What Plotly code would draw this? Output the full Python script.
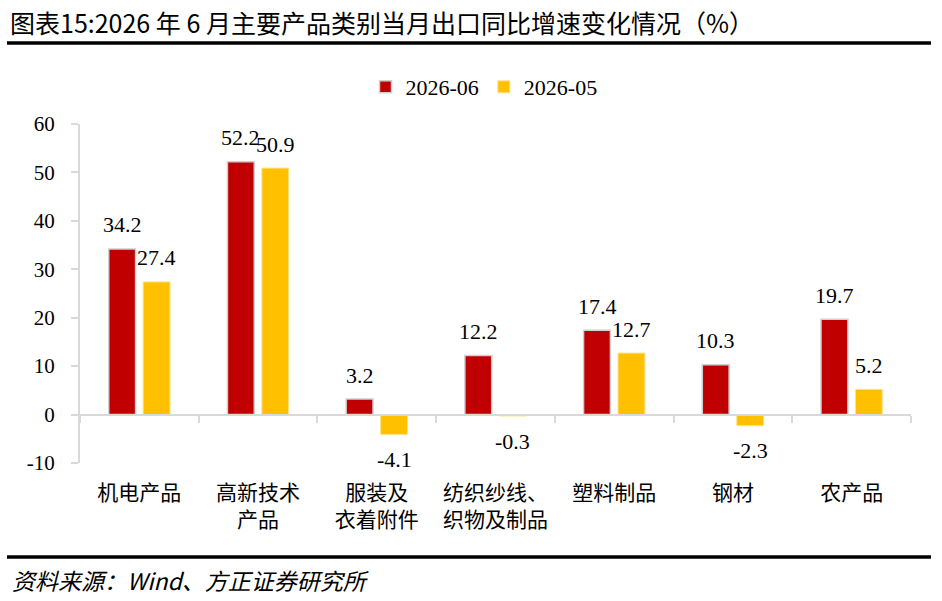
import plotly.graph_objects as go

categories = ["机电产品", "高新技术<br>产品", "服装及<br>衣着附件", "纺织纱线、<br>织物及制品", "塑料制品", "钢材", "农产品"]
series_names = ["2026-06", "2026-05"]
values_jun = [34.2, 52.2, 3.2, 12.2, 17.4, 10.3, 19.7]
values_may = [27.4, 50.9, -4.1, -0.3, 12.7, -2.3, 5.2]
y_ticks = [-10, 0, 10, 20, 30, 40, 50, 60]

RED = "#C00000"
GOLD = "#FFC000"
AXIS = "#D9D9D9"
SERIF = "Liberation Serif, Times New Roman, serif"
CJK = "Noto Sans CJK SC, sans-serif"

W, H = 942, 601
ML, MR, MT, MB = 80, 31, 124, 138
ymin, ymax = -10, 60
BARGAP, BARGROUPGAP = 0.42, 0.22

fig = go.Figure()
fig.add_trace(go.Bar(
    name=series_names[0], x=categories, y=values_jun,
    marker=dict(color=RED, line=dict(color="#D0D0D0", width=1.5)),
    cliponaxis=False,
))
fig.add_trace(go.Bar(
    name=series_names[1], x=categories, y=values_may,
    marker=dict(color=GOLD, line=dict(color="#FFE38A", width=1)),
    cliponaxis=False,
))

# value labels placed over each bar via the axis scales
slot = (1 - BARGAP) / 2
annotations = []
for i, (a, b) in enumerate(zip(values_jun, values_may)):
    for off, v in ((-slot / 2, a), (slot / 2, b)):
        annotations.append(dict(
            x=i + off, y=v, xref="x", yref="y", text=f"{v:.1f}", showarrow=False,
            xanchor="center", yanchor="middle", yshift=24 if v >= 0 else -25,
            font=dict(family=SERIF, size=22, color="black")))

ph = H - MT - MB
zero_pos = (0 - ymin) / (ymax - ymin)

def py(pix):
    return (H - MB - pix) / ph

def px(pix):
    return (pix - ML) / (W - ML - MR)

annotations += [
    dict(text="图表15:2026 年 6 月主要产品类别当月出口同比增速变化情况（%）",
         xref="paper", yref="paper", x=px(8), y=py(22), xanchor="left", yanchor="middle",
         showarrow=False, font=dict(family=CJK, size=25, color="black")),
    dict(text="<i>资料来源：Wind、方正证券研究所</i>",
         xref="paper", yref="paper", x=px(10), y=py(580), xanchor="left", yanchor="middle",
         showarrow=False, font=dict(family=CJK, size=23, color="black")),
]

fig.update_layout(
    width=W, height=H,
    margin=dict(l=ML, r=MR, t=MT, b=MB),
    plot_bgcolor="white", paper_bgcolor="white",
    barmode="group", bargap=BARGAP, bargroupgap=BARGROUPGAP,
    showlegend=True,
    legend=dict(orientation="h", x=px(484), xanchor="center", y=py(87), yanchor="middle",
                font=dict(family=SERIF, size=22, color="black"), itemwidth=30,
                bgcolor="rgba(0,0,0,0)"),
    xaxis=dict(type="category", anchor="free", position=zero_pos,
               showline=True, linecolor=AXIS, linewidth=2,
               ticks="outside", tickson="boundaries", ticklen=7, tickcolor=AXIS, tickwidth=2,
               ticklabelstandoff=59,
               tickfont=dict(family=CJK, size=21, color="black"),
               showgrid=False, zeroline=False),
    yaxis=dict(range=[ymin, ymax], tickvals=y_ticks, ticktext=[str(t) for t in y_ticks],
               showline=True, linecolor=AXIS, linewidth=2,
               ticks="outside", ticklen=7, tickcolor=AXIS, tickwidth=2,
               ticklabelstandoff=12,
               tickfont=dict(family=SERIF, size=21, color="black"),
               showgrid=False, zeroline=False),
    font=dict(family=CJK, color="black"),
    shapes=[
        dict(type="line", xref="paper", yref="paper", x0=px(7), x1=px(931), y0=py(43), y1=py(43),
             line=dict(color="black", width=3.5)),
        dict(type="line", xref="paper", yref="paper", x0=px(7), x1=px(931), y0=py(557), y1=py(557),
             line=dict(color="black", width=3.5)),
    ],
    annotations=annotations,
)

fig.write_html("out.html", config={"displayModeBar": False},
               post_script="document.body.style.margin='0';document.body.style.overflow='hidden';")
